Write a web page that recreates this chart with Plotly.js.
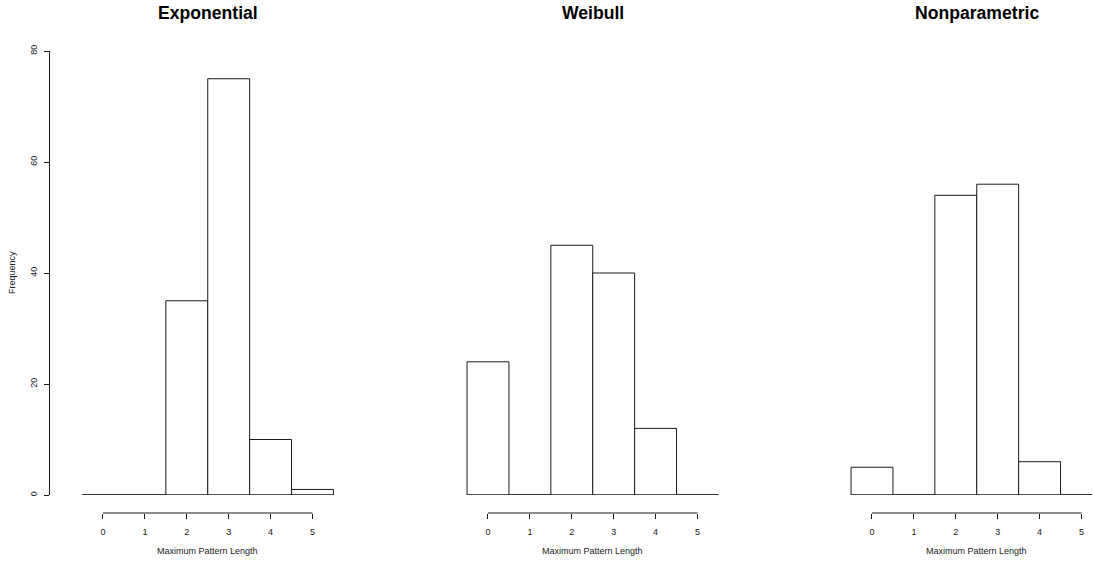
<!DOCTYPE html>
<html>
<head>
<meta charset="utf-8">
<script src="https://cdn.plot.ly/plotly-3.0.1.min.js"></script>
<style>
  html, body { margin: 0; padding: 0; background: #fff; }
  #chart { width: 1093px; height: 561px; }
</style>
</head>
<body>
<div id="chart"></div>
<script>
// Histogram bins: maximum pattern length (bin centres) and counts per model
const categories = [0, 1, 2, 3, 4, 5];
const exponentialCounts = [0, 0, 35, 75, 10, 1];
const weibullCounts = [24, 0, 45, 40, 12, 0];
const nonparametricCounts = [5, 0, 54, 56, 6, 0];
const panelTitles = ['Exponential', 'Weibull', 'Nonparametric'];
const xTickLabels = ['0', '1', '2', '3', '4', '5'];
const yTicks = [0, 20, 40, 60, 80];
const xTitle = 'Maximum Pattern Length';
const yTitle = 'Frequency';

const W = 1093, H = 561;
const FONT = 'Liberation Sans, Arial, sans-serif';
const INK = '#1a1a1a';

// pixel layout of the three panels
const pxPerUnit = 41.9;
const zeroPx = [103, 488, 872];
const xRanges = [[-0.75, 5.75], [-0.75, 5.75], [-0.75, 5.25]];
const yTopPx = 51, yBottomPx = 495, xAxisPx = 513;

const seriesList = [exponentialCounts, weibullCounts, nonparametricCounts];
const traces = [];
const layout = {
  width: W, height: H,
  margin: { l: 0, r: 0, t: 0, b: 0 },
  paper_bgcolor: '#fff', plot_bgcolor: 'rgba(0,0,0,0)',
  showlegend: false,
  font: { family: FONT, color: INK, size: 9 },
  shapes: [],
  annotations: []
};

const binWidth = categories[1] - categories[0];
const edgeLo = categories[0] - binWidth / 2;
const edgeHi = categories[categories.length - 1] + binWidth / 2;

seriesList.forEach((counts, i) => {
  const n = i + 1;
  const xa = n === 1 ? 'x' : 'x' + n;
  const ya = n === 1 ? 'y' : 'y' + n;
  const xKey = n === 1 ? 'xaxis' : 'xaxis' + n;
  const yKey = n === 1 ? 'yaxis' : 'yaxis' + n;
  const r = xRanges[i];
  const left = zeroPx[i] + r[0] * pxPerUnit;
  const right = zeroPx[i] + r[1] * pxPerUnit;

  // baseline spanning every bin (empty bins show as a flat line)
  traces.push({
    type: 'scatter', mode: 'lines', xaxis: xa, yaxis: ya,
    x: [edgeLo, edgeHi], y: [0, 0],
    line: { color: INK, width: 1 }, cliponaxis: false, hoverinfo: 'skip'
  });
  traces.push({
    type: 'bar', xaxis: xa, yaxis: ya,
    x: categories, y: counts, width: binWidth,
    marker: { color: '#ffffff', line: { color: INK, width: 1 } },
    cliponaxis: false, hoverinfo: 'skip'
  });

  layout[xKey] = {
    domain: [left / W, right / W],
    range: r,
    anchor: 'free',
    position: (H - xAxisPx) / H,
    showgrid: false, zeroline: false, showline: false,
    tickmode: 'array', tickvals: categories, ticktext: xTickLabels,
    ticks: 'outside', ticklen: 5, tickwidth: 1, tickcolor: INK,
    ticklabelstandoff: 5,
    tickfont: { family: FONT, size: 9, color: INK },
    fixedrange: true
  };

  const yBase = {
    domain: [(H - yBottomPx) / H, (H - yTopPx) / H],
    range: [0, 80],
    showgrid: false, zeroline: false,
    fixedrange: true
  };
  if (n === 1) {
    Object.assign(yBase, {
      anchor: 'free', position: 49 / W,
      showline: true, linecolor: INK, linewidth: 1,
      tickmode: 'array', tickvals: yTicks,
      ticks: 'outside', ticklen: 5, tickwidth: 1, tickcolor: INK,
      tickangle: -90, ticklabelstandoff: 3,
      tickfont: { family: FONT, size: 9, color: INK }
    });
  } else {
    Object.assign(yBase, { matches: 'y', visible: false, anchor: xa });
  }
  layout[yKey] = yBase;

  // x axis line runs from the first to the last tick
  layout.shapes.push({
    type: 'line', xref: xa, yref: 'paper',
    x0: categories[0], x1: categories[categories.length - 1],
    y0: (H - xAxisPx) / H, y1: (H - xAxisPx) / H,
    line: { color: INK, width: 1 }
  });

  layout.annotations.push({
    text: '<b>' + panelTitles[i] + '</b>',
    xref: xa, x: (categories[0] + categories[categories.length - 1]) / 2,
    yref: 'paper', y: (H - 13) / H, yanchor: 'middle', xanchor: 'center',
    showarrow: false, font: { family: FONT, size: 17.6, color: '#000' }
  });
  layout.annotations.push({
    text: xTitle,
    xref: xa, x: (categories[0] + categories[categories.length - 1]) / 2,
    yref: 'paper', y: (H - 551) / H, yanchor: 'middle', xanchor: 'center',
    showarrow: false, font: { family: FONT, size: 9, color: INK }
  });
});

layout.annotations.push({
  text: yTitle, textangle: -90,
  xref: 'paper', x: 12 / W, xanchor: 'center',
  yref: 'paper', y: (H - (yTopPx + yBottomPx) / 2) / H, yanchor: 'middle',
  showarrow: false, font: { family: FONT, size: 9, color: INK }
});

Plotly.newPlot('chart', traces, layout, { staticPlot: true, displayModeBar: false });
</script>
</body>
</html>
